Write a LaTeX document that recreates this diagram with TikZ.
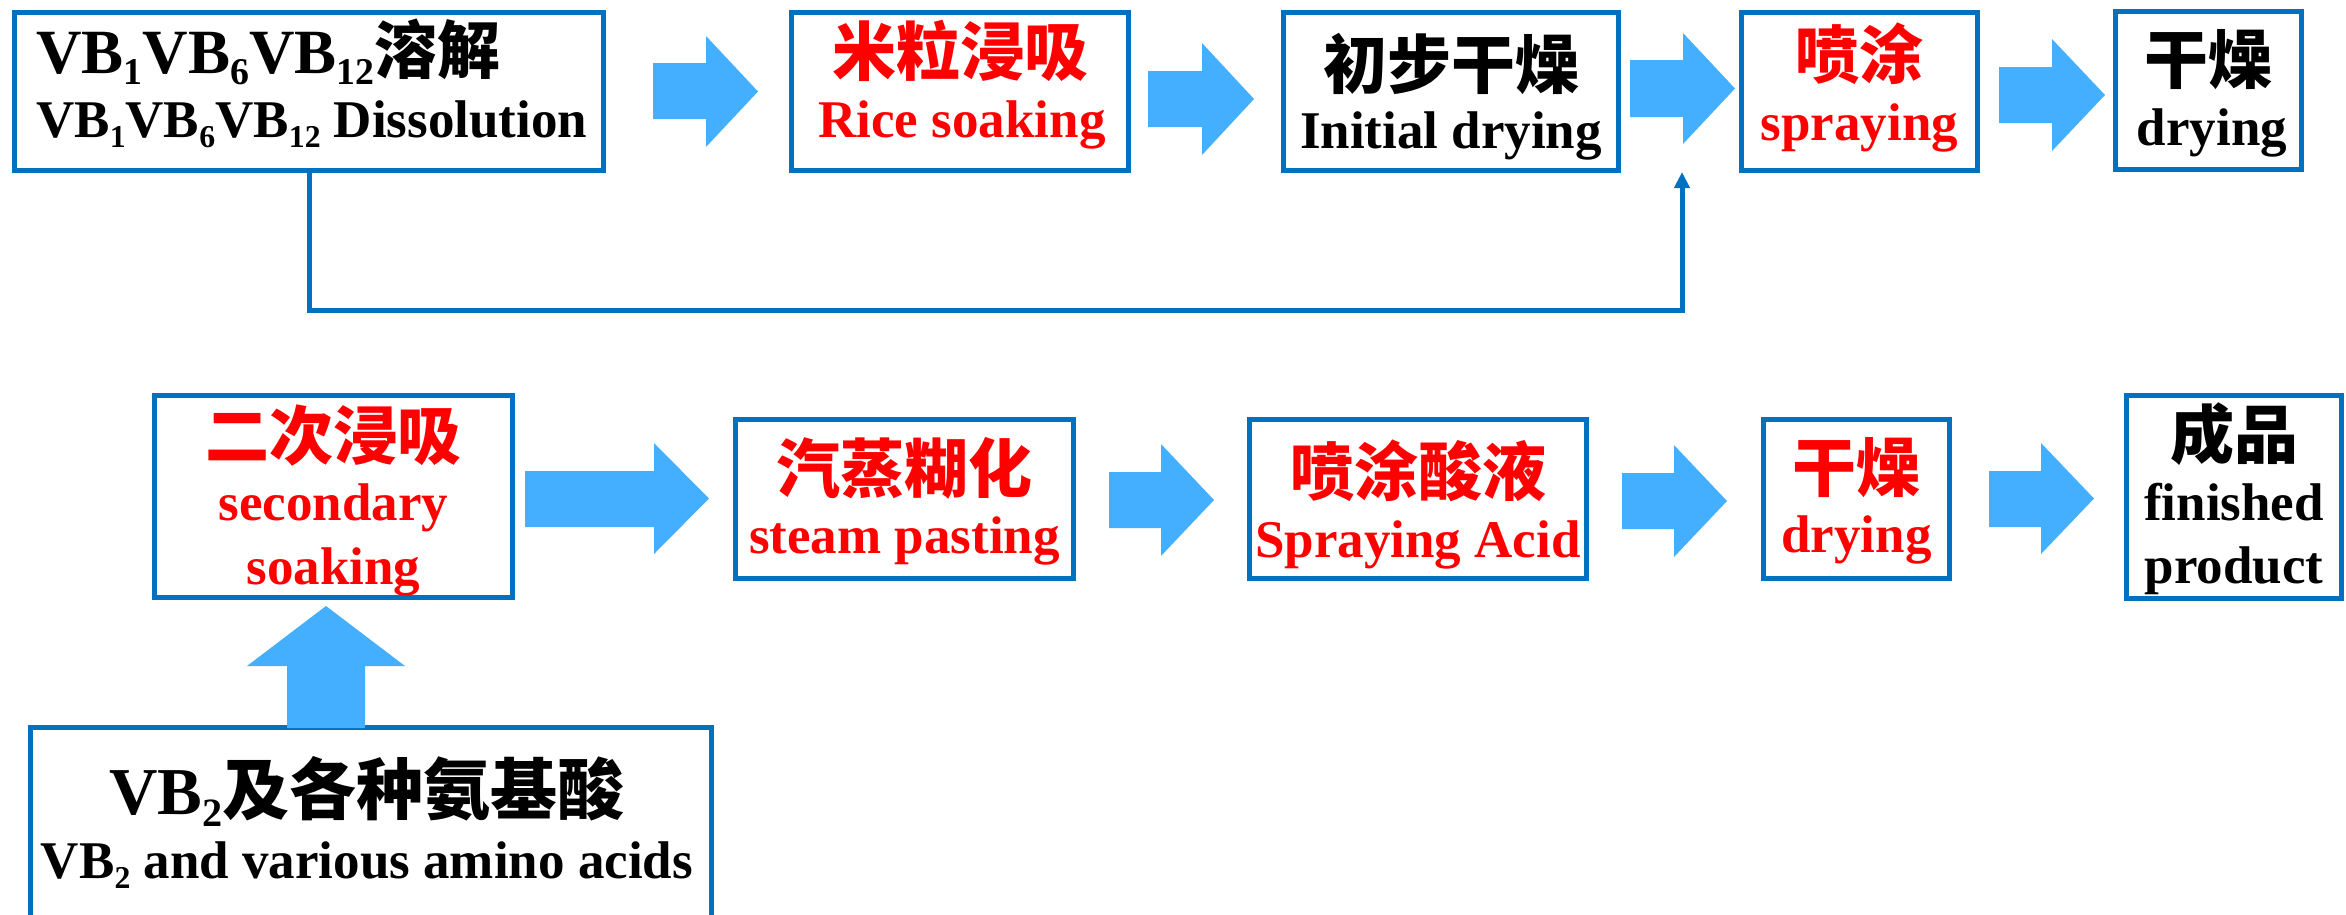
\documentclass[tikz,border=0pt]{standalone}
\usepackage{fontspec}
\usepackage{graphicx}
\setmainfont{Liberation Serif}
\newfontfamily\cjk{Noto Sans CJK SC}[BoldFont={Noto Sans CJK SC Black}]
\usetikzlibrary{arrows.meta}
\definecolor{boxblue}{RGB}{0,112,192}
\definecolor{arrblue}{RGB}{68,175,255}
\definecolor{txtred}{RGB}{255,0,0}
\newcommand\sbs[1]{\raisebox{-0.19em}{\scalebox{0.6}{#1}}}
\newcommand\barrow[7]{\fill[blk] (#1,#4) -- (#2,#4) -- (#2,#6) -- (#3,{(#6+#7)/2}) -- (#2,#7) -- (#2,#5) -- (#1,#5) -- cycle;}
\tikzset{
  box/.style={draw=boxblue, line width=5pt, inner sep=0pt, outer sep=0pt},
  en/.style={inner sep=0pt, anchor=base, font=\fontsize{53}{60}\selectfont\bfseries},
  zh/.style={inner sep=0pt, anchor=base, font=\fontsize{64}{70}\selectfont\cjk\bfseries},
  blk/.style={fill=arrblue},
  conn/.style={draw=boxblue, line width=5pt, -{Triangle[length=16pt,width=15pt]}},
  red/.style={text=txtred},
}
\begin{document}
\begin{tikzpicture}[x=1pt,y=-1pt]
\useasboundingbox (0,0) rectangle (2346,914);
% top row boxes
\node[box, minimum width=589pt, minimum height=158pt] (b1) at (309,91.5) {};
\node[box, minimum width=337pt, minimum height=158pt] (b2) at (960,91.5) {};
\node[box, minimum width=335pt, minimum height=158pt] (b3) at (1451,91.5) {};
\node[box, minimum width=236pt, minimum height=158pt] (b4) at (1859.5,91.5) {};
\node[box, minimum width=186pt, minimum height=158pt] (b5) at (2208.5,90.5) {};
% bottom row boxes
\node[box, minimum width=358pt, minimum height=202pt] (b6) at (333.5,496.5) {};
\node[box, minimum width=681pt, minimum height=210pt] (b7) at (371,832.5) {};
\node[box, minimum width=338pt, minimum height=159pt] (b8) at (904.5,499) {};
\node[box, minimum width=337pt, minimum height=159pt] (b9) at (1418,499) {};
\node[box, minimum width=186pt, minimum height=159pt] (b10) at (1856.5,499) {};
\node[box, minimum width=215pt, minimum height=203pt] (b11) at (2234,497) {};
% texts
\node[en, anchor=base west, font=\fontsize{63}{70}\selectfont\bfseries] (t1a) at (36,73) {VB\sbs{1}VB\sbs{6}VB\sbs{12}{\cjk 溶解}};
\node[en, anchor=base west] (t1b) at (36,137) {VB\sbs{1}VB\sbs{6}VB\sbs{12} Dissolution};
\node[zh, red] (t2a) at (960,75) {米粒浸吸};
\node[en, red] (t2b) at (962,137) {Rice soaking};
\node[zh] (t3a) at (1451,88) {初步干燥};
\node[en] (t3b) at (1451,148) {Initial drying};
\node[zh, red] (t4a) at (1859.5,78) {喷涂};
\node[en, red] (t4b) at (1859.5,140) {spraying};
\node[zh] (t5a) at (2208.5,83) {干燥};
\node[en] (t5b) at (2212,145) {drying};
\node[zh, red] (t6a) at (333.5,459) {二次浸吸};
\node[en, red] (t6b) at (333.5,520) {secondary};
\node[en, red] (t6c) at (333.5,584) {soaking};
\node[en, font=\fontsize{67}{75}\selectfont\bfseries] (t7a) at (367,814) {VB\sbs{2}{\cjk 及各种氨基酸}};
\node[en] (t7b) at (367,878) {VB\sbs{2} and various amino acids};
\node[zh, red] (t8a) at (904.5,492) {汽蒸糊化};
\node[en, red] (t8b) at (904.5,553) {steam pasting};
\node[zh, red] (t9a) at (1418,495) {喷涂酸液};
\node[en, red] (t9b) at (1418,557) {Spraying Acid};
\node[zh, red] (t10a) at (1856.5,491) {干燥};
\node[en, red] (t10b) at (1856.5,552) {drying};
\node[zh] (t11a) at (2234,458) {成品};
\node[en] (t11b) at (2234,520) {finished};
\node[en] (t11c) at (2234,583) {product};
% block arrows
\barrow{653}{706}{758}{63}{119}{36}{147}
\barrow{1148}{1202}{1254}{71}{127}{43}{155}
\barrow{1630}{1683}{1735}{60}{117}{33}{144}
\barrow{1999}{2052}{2105}{67}{123}{39}{151}
\barrow{525}{654}{709}{471}{527}{443}{554}
\barrow{1109}{1161}{1214}{472}{528}{444}{556}
\barrow{1622}{1674}{1727}{473}{529}{445}{557}
\barrow{1989}{2041}{2094}{471}{527}{443}{554}
\fill[blk] (287,728) -- (287,666) -- (247,666) -- (326,606) -- (405,666) -- (365,666) -- (365,728) -- cycle;
% connector
\coordinate (cc) at (1682,310);
\coordinate (tgt) at (1682,172);
\draw[conn] (b1.south) |- (cc) -- (tgt);
\end{tikzpicture}
\end{document}
